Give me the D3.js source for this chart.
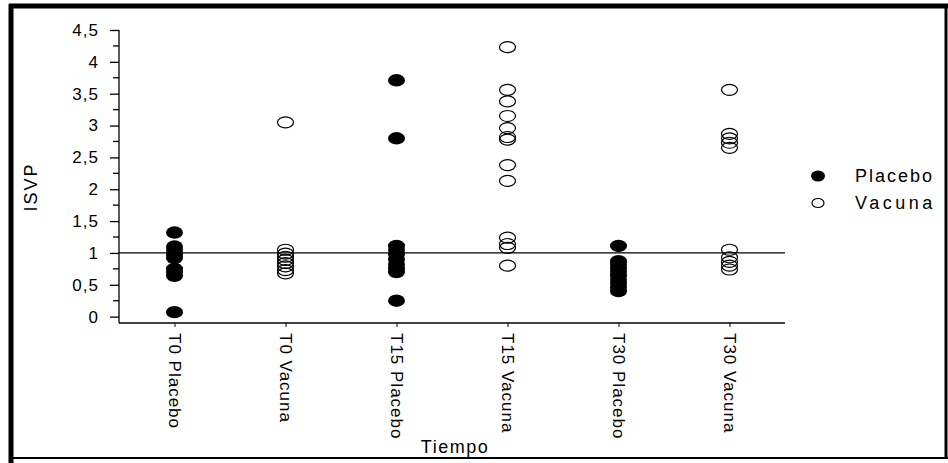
<!DOCTYPE html>
<html>
<head>
<meta charset="utf-8">
<script src="https://cdn.jsdelivr.net/npm/d3@7"></script>
<style>
  body { margin: 0; background: #fff; }
  svg text { font-family: "Liberation Sans", Arial, sans-serif; fill: #000; }
</style>
</head>
<body>
<svg id="chart" width="948" height="463"></svg>
<script>
// categories on the x axis
const categories = ["T0 Placebo", "T0 Vacuna", "T15 Placebo", "T15 Vacuna", "T30 Placebo", "T30 Vacuna"];
const groupOf = ["Placebo", "Vacuna", "Placebo", "Vacuna", "Placebo", "Vacuna"];

// ISVP values
const t0Placebo = [1.32, 1.1, 1.04, 0.97, 0.92, 0.75, 0.7, 0.64, 0.07];
const t0Vacuna = [3.05, 1.05, 0.99, 0.94, 0.89, 0.84, 0.79, 0.73, 0.68];
const t15Placebo = [3.71, 2.8, 1.11, 1.05, 0.98, 0.9, 0.82, 0.75, 0.7, 0.25];
const t15Vacuna = [4.23, 3.56, 3.38, 3.15, 2.96, 2.82, 2.78, 2.38, 2.13, 1.24, 1.14, 1.08, 0.8];
const t30Placebo = [1.11, 0.87, 0.82, 0.76, 0.7, 0.64, 0.58, 0.52, 0.46, 0.4];
const t30Vacuna = [3.56, 2.87, 2.8, 2.73, 2.65, 1.05, 0.93, 0.86, 0.8, 0.74];
const seriesValues = [t0Placebo, t0Vacuna, t15Placebo, t15Vacuna, t30Placebo, t30Vacuna];

const yTicks = [0, 0.5, 1, 1.5, 2, 2.5, 3, 3.5, 4, 4.5];
const refValue = 1;

const svg = d3.select("#chart");
const fmt = d => String(d).replace(".", ",");

const x = d3.scalePoint()
  .domain(categories)
  .range([119, 785])
  .padding(0.5);

const y = d3.scaleLinear()
  .domain([-0.1, 4.5])
  .range([323, 30]);

// frame round the picture
svg.append("rect").attr("x", 0).attr("y", 0).attr("width", 948).attr("height", 463).attr("fill", "#fff");
svg.append("line").attr("x1", 11).attr("x2", 11).attr("y1", 4).attr("y2", 463).attr("stroke", "#000").attr("stroke-width", 5);
svg.append("line").attr("x1", 9).attr("x2", 948).attr("y1", 6).attr("y2", 6).attr("stroke", "#000").attr("stroke-width", 5);
svg.append("line").attr("x1", 946).attr("x2", 946).attr("y1", 4).attr("y2", 459).attr("stroke", "#000").attr("stroke-width", 3);
svg.append("line").attr("x1", 9).attr("x2", 948).attr("y1", 458).attr("y2", 458).attr("stroke", "#000").attr("stroke-width", 2);

// y axis
const yAxis = svg.append("g")
  .attr("transform", "translate(119,0)")
  .call(d3.axisLeft(y).tickValues(yTicks).tickFormat(fmt).tickSize(9).tickSizeOuter(0));
yAxis.select(".domain").attr("d", `M0,${y(4.5)}V323`).attr("stroke-width", 1.3);
yAxis.selectAll(".tick line").attr("stroke-width", 1.3);
yAxis.selectAll("text")
  .attr("x", -20)
  .style("font-size", "17px")
  .style("letter-spacing", "1px")
  .attr("fill", "#000");

// minor ticks
svg.append("g").selectAll("line")
  .data(d3.range(0.25, 4.5, 0.5))
  .join("line")
  .attr("x1", 113).attr("x2", 119)
  .attr("y1", d => y(d)).attr("y2", d => y(d))
  .attr("stroke", "#000").attr("stroke-width", 1.3);

// x axis
const xAxis = svg.append("g")
  .attr("transform", "translate(0,323)")
  .call(d3.axisBottom(x).tickSize(4).tickSizeOuter(0));
xAxis.select(".domain").attr("d", "M119,0H785").attr("stroke-width", 1.3);
xAxis.selectAll("text")
  .attr("transform", "rotate(90)")
  .attr("x", 10).attr("y", 0).attr("dy", "0.35em")
  .attr("text-anchor", "start")
  .style("font-size", "17px")
  .style("letter-spacing", "1px")
  .attr("fill", "#000");

// reference line at 1
svg.append("line")
  .attr("x1", 119).attr("x2", 785)
  .attr("y1", y(refValue)).attr("y2", y(refValue))
  .attr("stroke", "#000").attr("stroke-width", 1.2);

// points
const points = [];
seriesValues.forEach((vals, i) => {
  vals.forEach(v => points.push({ cat: categories[i], group: groupOf[i], value: v }));
});

svg.append("g").selectAll("ellipse")
  .data(points)
  .join("ellipse")
  .attr("cx", d => x(d.cat))
  .attr("cy", d => y(d.value))
  .attr("rx", d => d.group === "Placebo" ? 8.5 : 8)
  .attr("ry", d => d.group === "Placebo" ? 6.2 : 5.5)
  .attr("fill", d => d.group === "Placebo" ? "#000" : "none")
  .attr("stroke", "#000")
  .attr("stroke-width", d => d.group === "Placebo" ? 0 : 1.2);

// axis titles
svg.append("text")
  .attr("transform", "translate(37,187) rotate(-90)")
  .attr("text-anchor", "middle")
  .style("font-size", "18px")
  .style("letter-spacing", "2px")
  .text("ISVP");

svg.append("text")
  .attr("x", 455).attr("y", 453)
  .attr("text-anchor", "middle")
  .style("font-size", "18px")
  .style("letter-spacing", "1.5px")
  .text("Tiempo");

// legend
const legendGroups = ["Placebo", "Vacuna"];
const legend = svg.append("g").selectAll("g")
  .data(legendGroups)
  .join("g")
  .attr("transform", (d, i) => `translate(818,${176 + i * 27})`);

legend.append("ellipse")
  .attr("rx", d => d === "Placebo" ? 7 : 6)
  .attr("ry", d => d === "Placebo" ? 5.5 : 4.5)
  .attr("fill", d => d === "Placebo" ? "#000" : "none")
  .attr("stroke", "#000")
  .attr("stroke-width", d => d === "Placebo" ? 0 : 1.2);

legend.append("text")
  .attr("x", 37)
  .attr("dy", "0.35em")
  .style("font-size", "18px")
  .style("letter-spacing", d => d === "Placebo" ? "2px" : "3.5px")
  .text(d => d);
</script>
</body>
</html>
